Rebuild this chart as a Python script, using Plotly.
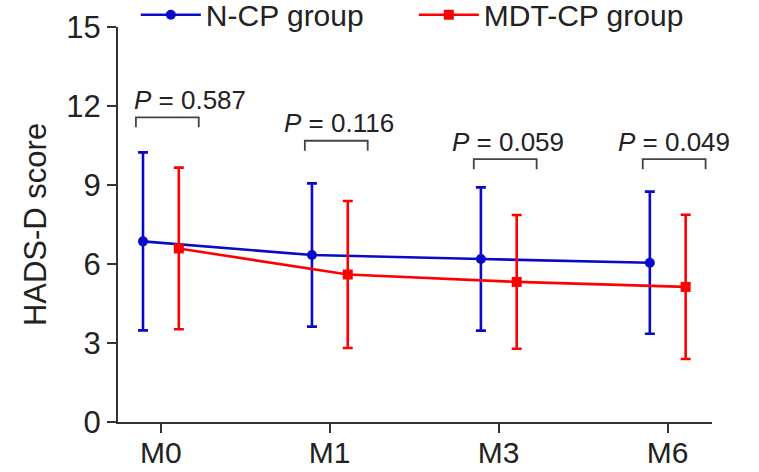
import plotly.graph_objects as go

# Time points and group summaries (mean ± SD of HADS-D score)
timepoints = ["M0", "M1", "M3", "M6"]
ncp_mean = [6.86, 6.34, 6.19, 6.05]
ncp_sd = [3.38, 2.72, 2.72, 2.70]
mdt_mean = [6.59, 5.60, 5.32, 5.13]
mdt_sd = [3.07, 2.79, 2.54, 2.74]
p_values = ["0.587", "0.116", "0.059", "0.049"]
y_ticks = [0, 3, 6, 9, 12, 15]

# Layout helpers (horizontal dodge of the two groups, bracket placement)
dodge_left, dodge_right = -0.105, 0.107
bracket_top = [11.57, 10.68, 9.98, 9.98]
bracket_span = (-0.147, 0.225)
bracket_leg = 0.38
label_dx = [0.173, 0.057, 0.058, 0.041]
label_gap = 0.66

BLUE = "#0A0AC8"
RED = "#FF0000"
INK = "#222222"
AXIS = "#333333"
FONT = "Liberation Sans, Arial, sans-serif"

idx = list(range(len(timepoints)))

fig = go.Figure()
fig.add_trace(go.Scatter(
    x=[i + dodge_left for i in idx], y=ncp_mean, name="N-CP group",
    mode="lines+markers",
    line=dict(color=BLUE, width=2.6),
    marker=dict(symbol="circle", size=10, color=BLUE),
    error_y=dict(type="data", array=ncp_sd, visible=True,
                 color=BLUE, thickness=2.6, width=5),
))
fig.add_trace(go.Scatter(
    x=[i + dodge_right for i in idx], y=mdt_mean, name="MDT-CP group",
    mode="lines+markers",
    line=dict(color=RED, width=2.6),
    marker=dict(symbol="square", size=10, color=RED),
    error_y=dict(type="data", array=mdt_sd, visible=True,
                 color=RED, thickness=2.6, width=5),
))

# Significance brackets with P-value labels
for i, top, p, dx in zip(idx, bracket_top, p_values, label_dx):
    x0, x1 = i + bracket_span[0], i + bracket_span[1]
    fig.add_shape(
        type="path", xref="x", yref="y",
        path=f"M {x0} {top - bracket_leg} L {x0} {top} L {x1} {top} L {x1} {top - bracket_leg}",
        line=dict(color="#444444", width=1.8),
    )
    fig.add_annotation(
        x=i + dx, y=top + label_gap, xref="x", yref="y",
        text=f"<i>P</i> = {p}", showarrow=False,
        font=dict(family=FONT, size=26, color=INK),
        xanchor="center", yanchor="middle",
    )

fig.update_layout(
    width=759, height=472,
    margin=dict(l=118, r=47, t=27, b=50, autoexpand=False),
    paper_bgcolor="white", plot_bgcolor="white",
    font=dict(family=FONT, color=INK),
    showlegend=True,
    legend=dict(
        orientation="h", x=0.03, xanchor="left", y=1.031, yanchor="middle",
        font=dict(family=FONT, size=30, color=INK),
        itemwidth=60, entrywidth=203, entrywidthmode="pixels",
        bgcolor="rgba(0,0,0,0)", itemclick=False,
    ),
    xaxis=dict(
        range=[-0.253, 3.263], tickmode="array", tickvals=idx, ticktext=timepoints,
        showline=True, linecolor=AXIS, linewidth=2,
        ticks="outside", ticklen=3, tickwidth=2, tickcolor=AXIS,
        minor=dict(tickmode="array", tickvals=idx, ticks="outside",
                   ticklen=9, tickwidth=2, tickcolor=AXIS, showgrid=False),
        tickfont=dict(family=FONT, size=30, color=INK),
        showgrid=False, zeroline=False, fixedrange=True,
    ),
    yaxis=dict(
        range=[0, 15], tickmode="array", tickvals=y_ticks,
        showline=True, linecolor=AXIS, linewidth=2,
        ticks="outside", ticklen=9, tickwidth=2, tickcolor=AXIS,
        tickfont=dict(family=FONT, size=31, color=INK),
        title=dict(text="HADS-D score", font=dict(family=FONT, size=31, color=INK), standoff=10),
        showgrid=False, zeroline=False, fixedrange=True,
    ),
)

fig.write_html("out.html")
